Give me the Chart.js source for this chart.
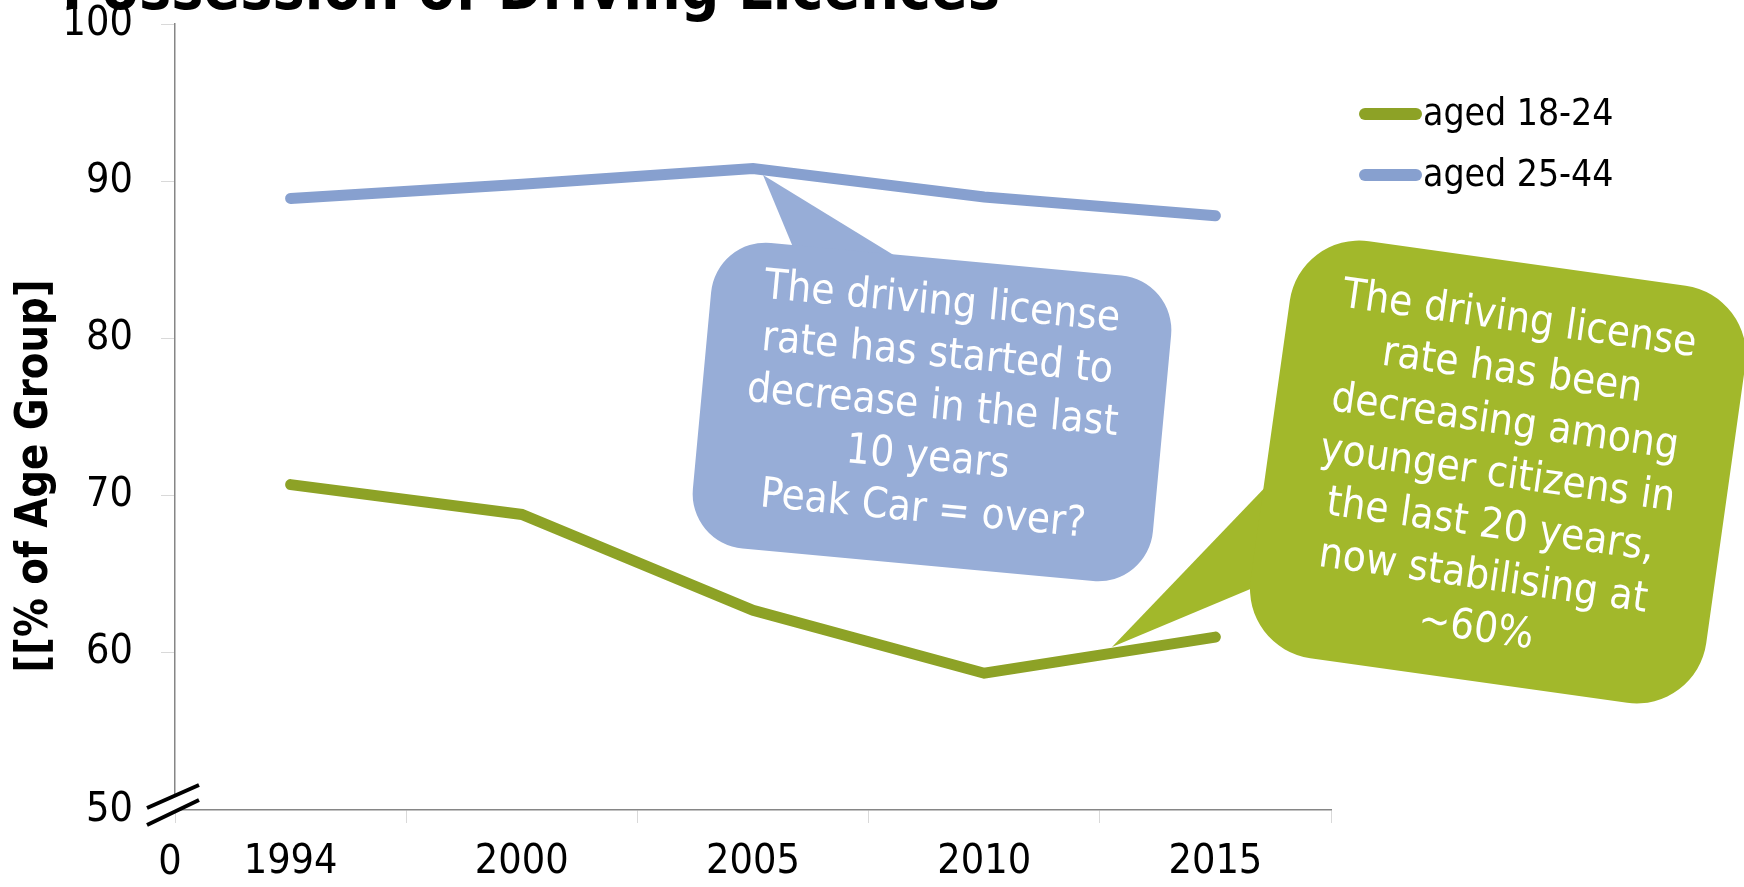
<!DOCTYPE html>
<html>
<head>
<meta charset="utf-8">
<script src="https://cdn.jsdelivr.net/npm/chart.js@4.4.1/dist/chart.umd.min.js"></script>
<style>
  html, body { margin: 0; padding: 0; background: #fff; }
  #wrap { width: 1744px; height: 887px; position: relative; }
</style>
</head>
<body>
<div id="wrap"><canvas id="licenceChart" width="1744" height="887"></canvas></div>
<script>
// chart data
const years = ["1994", "2000", "2005", "2010", "2015"];
const aged1824 = [70.7, 68.8, 62.7, 58.7, 61.0];
const aged2544 = [88.9, 89.8, 90.8, 89.0, 87.8];
const seriesNames = ["aged 18-24", "aged 25-44"];
const seriesColors = ["#8DA226", "#87A0CF"];
const yMin = 50, yMax = 100, yStep = 10;

const chartTitle = "Possession of Driving Licences";
const yTitle = "[[% of Age Group]";
const blueNote = ["The driving license", "rate has started to", "decrease in the last", "10 years", "Peak Car = over?"];
const greenNote = ["The driving license", "rate has been", "decreasing among", "younger citizens in", "the last 20 years,", "now stabilising at", "~60%"];

const FONT = "'DejaVu Sans Condensed', 'DejaVu Sans', sans-serif";

document.addEventListener("DOMContentLoaded", () => {
    const ctx = document.getElementById("licenceChart").getContext("2d");

    // rounded rectangle, rotated around its centre, with a pointed tail
    function callout(c, box, tail, fill, lines, fontSize, lineH, textShift) {
        c.save();
        c.fillStyle = fill;
        c.beginPath();
        c.moveTo(tail[0][0], tail[0][1]);
        c.lineTo(tail[1][0], tail[1][1]);
        c.lineTo(tail[2][0], tail[2][1]);
        c.closePath();
        c.fill();
        c.translate(box.cx, box.cy);
        c.rotate(box.angle * Math.PI / 180);
        c.beginPath();
        c.roundRect(-box.w / 2, -box.h / 2, box.w, box.h, box.r);
        c.fill();
        c.fillStyle = "#fff";
        c.font = fontSize + "px " + FONT;
        c.textAlign = "center";
        c.textBaseline = "middle";
        const start = -(lines.length - 1) * lineH / 2 + textShift;
        lines.forEach((t, i) => c.fillText(t, 0, start + i * lineH));
        c.restore();
    }

    const decorations = {
        id: "decorations",
        beforeDatasetsDraw(chart) {
            const c = chart.ctx;
            callout(c, { cx: 932, cy: 412, w: 462, h: 307, r: 55, angle: 5.3 },
                [[763, 175], [795, 252], [905, 262]], "#97ADD7", blueNote, 42, 52, -5);
            callout(c, { cx: 1498, cy: 472, w: 460, h: 421, r: 70, angle: 8 },
                [[1112, 647], [1275, 477], [1260, 585]], "#A2B82B", greenNote, 42, 52, 3);
        },
        afterDraw(chart) {
            const c = chart.ctx;
            const area = chart.chartArea;
            c.save();
            // title (mostly cut off at the top)
            c.fillStyle = "#000";
            c.font = "bold 62px " + FONT;
            c.textAlign = "left";
            c.textBaseline = "alphabetic";
            c.fillText(chartTitle, 62, 9, 938);

            // y axis title
            c.save();
            c.translate(36, 476);
            c.rotate(-Math.PI / 2);
            c.font = "bold 44px " + FONT;
            c.textAlign = "center";
            c.textBaseline = "middle";
            c.fillText(yTitle, 0, 0, 393);
            c.restore();

            // "0" under the origin
            c.font = "41px " + FONT;
            c.textAlign = "center";
            c.textBaseline = "middle";
            c.fillText("0", area.left - 5, 863);

            // axis break
            const bx = area.left, by = area.bottom;
            c.fillStyle = "#fff";
            c.beginPath();
            c.moveTo(bx - 28, by - 2);
            c.lineTo(bx + 24, by - 25);
            c.lineTo(bx + 24, by - 10);
            c.lineTo(bx - 28, by + 15);
            c.closePath();
            c.fill();
            c.strokeStyle = "#000";
            c.lineWidth = 4;
            c.beginPath();
            c.moveTo(bx - 28, by - 2);
            c.lineTo(bx + 24, by - 25);
            c.moveTo(bx - 28, by + 15);
            c.lineTo(bx + 24, by - 10);
            c.stroke();

            // legend
            const lx = 1359, ly = [114, 175];
            c.lineCap = "round";
            c.lineWidth = 12;
            c.font = "37px " + FONT;
            c.textAlign = "left";
            c.textBaseline = "middle";
            chart.data.datasets.forEach((ds, i) => {
                c.strokeStyle = ds.borderColor;
                c.beginPath();
                c.moveTo(lx + 6, ly[i]);
                c.lineTo(lx + 57, ly[i]);
                c.stroke();
                c.fillStyle = "#000";
                c.fillText(ds.label, lx + 64, ly[i] + 1);
            });
            c.restore();
        }
    };

    new Chart(ctx, {
        type: "line",
        data: {
            labels: years,
            datasets: [
                { label: seriesNames[0], data: aged1824, borderColor: seriesColors[0] },
                { label: seriesNames[1], data: aged2544, borderColor: seriesColors[1] }
            ]
        },
        options: {
            responsive: false,
            animation: false,
            layout: { padding: { top: 0, right: 413, left: 0, bottom: 0 } },
            elements: {
                point: { radius: 0 },
                line: { borderWidth: 11, tension: 0, borderCapStyle: "round", borderJoinStyle: "miter", fill: false }
            },
            plugins: { legend: { display: false }, tooltip: { enabled: false } },
            scales: {
                x: {
                    offset: true,
                    grid: { offset: true, drawOnChartArea: false, tickLength: 13, color: "#d9d9d9" },
                    border: { color: "#868686", width: 1.5 },
                    ticks: { color: "#000", font: { family: FONT, size: 41 }, padding: 15 },
                    afterFit: s => { s.height = 77; }
                },
                y: {
                    min: yMin,
                    max: yMax,
                    grid: { drawOnChartArea: false, tickLength: 14, color: "#d9d9d9" },
                    border: { color: "#868686", width: 1.5 },
                    ticks: { stepSize: yStep, color: "#000", font: { family: FONT, size: 41 }, padding: 28 },
                    afterFit: s => { s.width = 175; s.paddingTop = 24; }
                }
            }
        },
        plugins: [decorations]
    });
});
</script>
</body>
</html>
